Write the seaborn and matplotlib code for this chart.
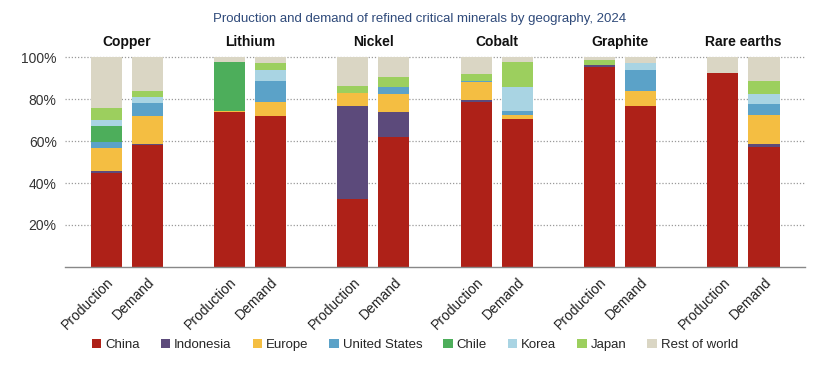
import pandas as pd
import seaborn as sns
import matplotlib.pyplot as plt
import matplotlib.transforms as mtransforms
from matplotlib.patches import Patch

minerals = ["Copper", "Lithium", "Nickel", "Cobalt", "Graphite", "Rare earths"]
stages = ["Production", "Demand"]
regions = ["China", "Indonesia", "Europe", "United States", "Chile", "Korea", "Japan", "Rest of world"]
colors = ["#ae2118", "#5c4a7b", "#f4be42", "#5ba2c8", "#4dae5b", "#a9d4e3", "#9ccf5e", "#dad6c4"]

# shares in %, one value per (mineral, stage): Cu P, Cu D, Li P, Li D, ...
china = [44.6, 58.0, 74.0, 71.9, 32.2, 62.1, 78.7, 70.3, 95.4, 76.8, 92.2, 57.0]
indonesia = [1.3, 0.6, 0, 0, 44.5, 11.9, 0.8, 0, 1.0, 0, 0, 1.4]
europe = [10.6, 13.3, 0.5, 6.8, 6.3, 8.2, 8.7, 2.1, 0, 7.2, 0, 14.0]
united_states = [3.2, 6.4, 0, 9.9, 0, 3.4, 0.5, 1.9, 0, 9.8, 0, 5.2]
chile = [7.4, 0, 23.3, 0, 0, 0, 0, 0, 0, 0, 0, 0]
korea = [2.9, 2.5, 0, 5.2, 0, 0, 0, 11.6, 0, 3.5, 0, 4.6]
japan = [5.6, 3.0, 0, 3.5, 3.3, 4.7, 3.1, 11.9, 2.1, 0, 0, 6.5]
rest_of_world = [24.4, 16.2, 2.2, 2.7, 13.7, 9.7, 8.2, 2.2, 1.5, 2.7, 7.8, 11.3]

shares = [china, indonesia, europe, united_states, chile, korea, japan, rest_of_world]

# long format, bar slot = 3 * mineral + stage (one empty slot between groups)
rows = []
for region, vals in zip(regions, shares):
    for i, v in enumerate(vals):
        g, s = divmod(i, 2)
        rows.append({"pos": 3 * g + s, "region": region, "share": v})
df = pd.DataFrame(rows)

sns.set_theme(style="white")
plt.rcParams["font.family"] = ["Liberation Sans", "DejaVu Sans"]

fig = plt.figure(figsize=(8.3, 3.78), dpi=100)
ax = fig.add_axes([0.0783, 0.2937, 0.8917, 0.5582])

# histplot stacks the first hue level on top, so pass the order reversed
sns.histplot(data=df, x="pos", weights="share", hue="region",
             hue_order=regions[::-1], palette=colors[::-1],
             multiple="stack", discrete=True, shrink=0.756,
             alpha=1, linewidth=0, legend=False, ax=ax)

ax.set_xlim(-1.0, 17.0)
ax.set_ylim(0, 100.5)
ax.set_xlabel("")
ax.set_ylabel("")

ticks = [3 * g + s for g in range(len(minerals)) for s in range(2)]
ax.set_xticks(ticks)
ax.set_xticklabels(stages * len(minerals), rotation=45, ha="right",
                   rotation_mode="anchor", fontsize=10, color="#222222")
ax.set_yticks([20, 40, 60, 80, 100])
ax.set_yticklabels(["20%", "40%", "60%", "80%", "100%"], fontsize=10, color="#333333")
ax.tick_params(length=0, pad=6)

ax.yaxis.grid(True, linestyle=(0, (1, 1.5)), color="#9a9a9a", linewidth=0.9)
ax.xaxis.grid(False)
ax.set_axisbelow(True)
for side in ["left", "top", "right"]:
    ax.spines[side].set_visible(False)
ax.spines["bottom"].set_color("#888888")
ax.spines["bottom"].set_linewidth(1.0)

trans = mtransforms.blended_transform_factory(ax.transData, ax.transAxes)
for g, name in enumerate(minerals):
    ax.text(3 * g + 0.5, 1.066, name, transform=trans, ha="center", va="center",
            fontsize=10, fontweight="bold", color="#111111")

fig.text(0.506, 0.95, "Production and demand of refined critical minerals by geography, 2024",
         ha="center", va="center", fontsize=9.5, color="#2f4a7a")

handles = [Patch(facecolor=c, edgecolor="none") for c in colors]
fig.legend(handles, regions, loc="center", bbox_to_anchor=(0.5, 0.087), ncol=8,
           frameon=False, fontsize=9.5, handlelength=0.7, handleheight=0.7,
           handletextpad=0.3, columnspacing=1.6)

fig.savefig("out.png", dpi=100)
